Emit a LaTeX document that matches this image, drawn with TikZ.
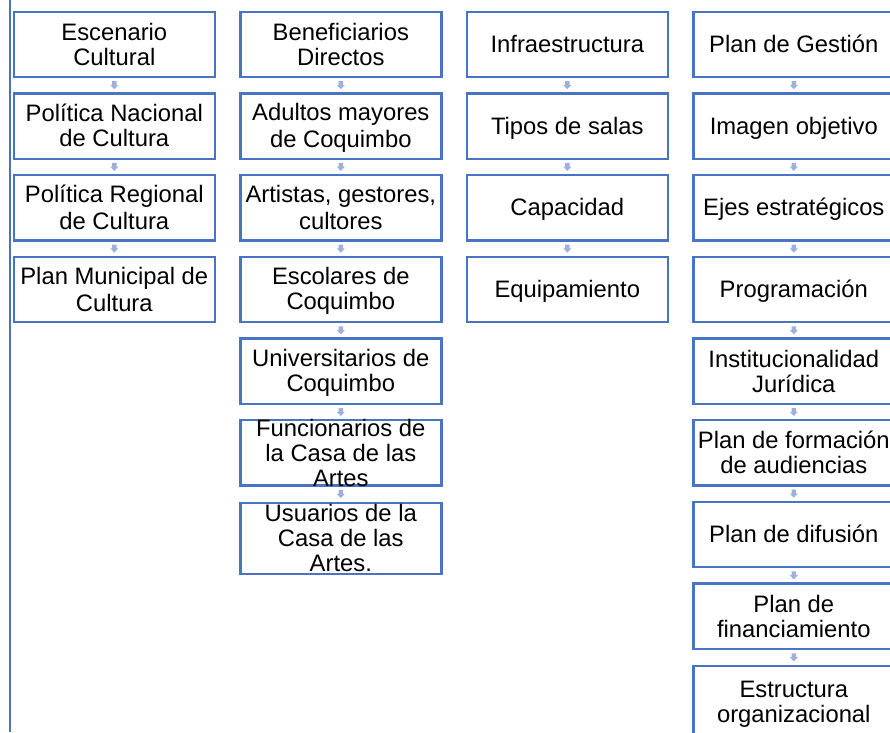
\documentclass[tikz,border=0pt]{standalone}
\usepackage{fontspec}
\setmainfont{Liberation Sans}
\usetikzlibrary{calc}
\definecolor{boxblue}{RGB}{72,116,196}
\definecolor{arrblue}{RGB}{160,176,220}
\newcommand\ts{\rule[-4.1pt]{0pt}{25pt}}
\newcommand\bx[4][]{\node[box,#1] (#2) at (#3) {}; \node[txt] (#2t) at (#2.center) {#4};}
\newcommand\dn[2]{\fill[arrblue] ($(#1.south)!0.5!(#2.north)$) ++(-2.3,-4) -- ++(4.6,0) -- ++(0,3.8) -- ++(1.7,0) -- ++(-4,4.2) -- ++(-4,-4.2) -- ++(1.7,0) -- cycle;}
\begin{document}
\begin{tikzpicture}[x=1pt,y=-1pt,
  box/.style={draw=boxblue,line width=2.4pt,fill=white,minimum width=201pt,minimum height=65.3pt,inner sep=0pt,outer sep=0pt},
  txt/.style={font=\fontsize{23.8}{25}\selectfont,align=center,inner sep=0pt,text=black}]
\useasboundingbox (0,0) rectangle (890,732);
\fill[white] (0,0) rectangle (890,732);
\draw[boxblue,line width=1.5pt] (10,0) -- (10,732);
% column 1
\bx{a0}{114.3,44.35}{\ts Escenario\\\ts Cultural}
\bx{a1}{114.3,126.05}{\ts Política Nacional\\\ts de Cultura}
\bx{a2}{114.3,207.75}{\ts Política Regional\\\ts de Cultura}
\bx{a3}{114.3,289.45}{\ts Plan Municipal de\\\ts Cultura}
% column 2
\bx{b0}{340.8,44.35}{\ts Beneficiarios\\\ts Directos}
\bx{b1}{340.8,126.05}{\ts Adultos mayores\\\ts de Coquimbo}
\bx{b2}{340.8,207.75}{\ts Artistas, gestores,\\\ts cultores}
\bx{b3}{340.8,289.45}{\ts Escolares de\\\ts Coquimbo}
\bx{b4}{340.8,371.15}{\ts Universitarios de\\\ts Coquimbo}
\bx{b5}{340.8,452.85}{\ts Funcionarios de\\\ts la Casa de las\\\ts Artes}
\bx[minimum height=71.3pt]{b6}{340.8,538.35}{\ts Usuarios de la\\\ts Casa de las\\\ts Artes.}
% column 3
\bx{c0}{567.3,44.35}{\ts Infraestructura}
\bx{c1}{567.3,126.05}{\ts Tipos de salas}
\bx{c2}{567.3,207.75}{\ts Capacidad}
\bx{c3}{567.3,289.45}{\ts Equipamiento}
% column 4
\bx{d0}{793.8,44.35}{\ts Plan de Gestión}
\bx{d1}{793.8,126.05}{\ts Imagen objetivo}
\bx{d2}{793.8,207.75}{\ts Ejes estratégicos}
\bx{d3}{793.8,289.45}{\ts Programación}
\bx{d4}{793.8,371.15}{\ts Institucionalidad\\\ts Jurídica}
\bx{d5}{793.8,452.85}{\ts Plan de formación\\\ts de audiencias}
\bx{d6}{793.8,534.55}{\ts Plan de difusión}
\bx{d7}{793.8,616.25}{\ts Plan de\\\ts financiamiento}
\bx[minimum height=71.3pt]{d8}{793.8,701.6}{\ts Estructura\\\ts organizacional}
% arrows
\dn{a0}{a1}\dn{a1}{a2}\dn{a2}{a3}
\dn{b0}{b1}\dn{b1}{b2}\dn{b2}{b3}\dn{b3}{b4}\dn{b4}{b5}\dn{b5}{b6}
\dn{c0}{c1}\dn{c1}{c2}\dn{c2}{c3}
\dn{d0}{d1}\dn{d1}{d2}\dn{d2}{d3}\dn{d3}{d4}\dn{d4}{d5}\dn{d5}{d6}\dn{d6}{d7}\dn{d7}{d8}
\end{tikzpicture}
\end{document}
